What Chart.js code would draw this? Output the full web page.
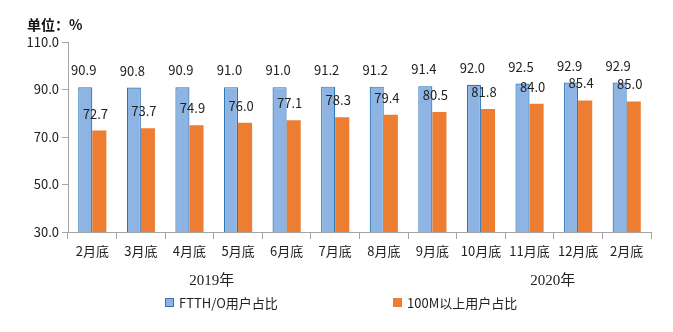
<!DOCTYPE html>
<html>
<head>
<meta charset="utf-8">
<script src="https://cdn.jsdelivr.net/npm/chart.js@4/dist/chart.umd.min.js"></script>
<style>
  html, body { margin: 0; padding: 0; background: #fff; }
  #wrap { position: relative; width: 673px; height: 332px; }
</style>
</head>
<body>
<div id="wrap"><canvas id="broadbandChart" width="673" height="332"></canvas></div>
<script>
/* global Chart */
var months = ['2月底', '3月底', '4月底', '5月底', '6月底', '7月底', '8月底', '9月底', '10月底', '11月底', '12月底', '2月底'];
var ftthShare = [90.9, 90.8, 90.9, 91.0, 91.0, 91.2, 91.2, 91.4, 92.0, 92.5, 92.9, 92.9];
var over100mShare = [72.7, 73.7, 74.9, 76.0, 77.1, 78.3, 79.4, 80.5, 81.8, 84.0, 85.4, 85.0];
var seriesNames = ['FTTH/O用户占比', '100M以上用户占比'];
var yearLabels = ['2019年', '2020年'];
var unitText = '单位：%';

var cjk = '"Noto Sans CJK SC", "Noto Sans", sans-serif';

// value labels above each bar, plus unit, years and legend
var extrasPlugin = {
    id: 'extras',
    afterDatasetsDraw: function(chart){
        var ctx = chart.ctx;
        ctx.save();
        ctx.font = '13px ' + cjk;
        ctx.fillStyle = '#222';
        ctx.textAlign = 'center';
        ctx.textBaseline = 'middle';
        chart.data.datasets.forEach(function(ds, i){
            var meta = chart.getDatasetMeta(i);
            meta.data.forEach(function(bar, j){
                var shift = i === 0 ? -1.5 : -4;
                ctx.fillText(ds.data[j].toFixed(1), bar.x + shift, bar.y - 17);
            });
        });
        ctx.restore();
    },
    afterDraw: function(chart){
        var ctx = chart.ctx;
        ctx.save();
        // unit
        ctx.font = 'bold 14px ' + cjk;
        ctx.fillStyle = '#111';
        ctx.textAlign = 'left';
        ctx.textBaseline = 'middle';
        ctx.fillText(unitText, 27, 25);

        // year labels
        ctx.font = '15px "Liberation Serif", "Noto Sans CJK SC", serif';
        ctx.fillStyle = '#222';
        ctx.textAlign = 'center';
        var xs = chart.scales.x;
        var c2019 = (xs.getPixelForValue(2) + xs.getPixelForValue(3)) / 2 - 2;
        var c2020 = (xs.getPixelForValue(9) + xs.getPixelForValue(10)) / 2 - 1;
        ctx.fillText(yearLabels[0], c2019, 281);
        ctx.fillText(yearLabels[1], c2020, 281);

        // legend
        var items = [
            {x: 165, fill: '#8EB4E3', border: '#2E75B6', text: seriesNames[0]},
            {x: 393, fill: '#ED7D31', border: '#ED7D31', text: seriesNames[1]}
        ];
        ctx.font = '13px ' + cjk;
        ctx.textAlign = 'left';
        items.forEach(function(it){
            ctx.fillStyle = it.fill;
            ctx.fillRect(it.x, 298, 9, 9);
            ctx.strokeStyle = it.border;
            ctx.lineWidth = 1;
            ctx.strokeRect(it.x + 0.5, 298.5, 8, 8);
            ctx.fillStyle = '#222';
            ctx.fillText(it.text, it.x + 14, 303);
        });
        ctx.restore();
    }
};

function renderBars(){
    var ctx = document.getElementById('broadbandChart').getContext('2d');
    var config = {
        type: 'bar',
        data: {
            labels: months,
            datasets: [{
                label: seriesNames[0],
                data: ftthShare,
                backgroundColor: '#8EB4E3',
                borderColor: '#2E75B6',
                borderWidth: 1.2,
                categoryPercentage: 0.58,
                barPercentage: 1.0
            }, {
                label: seriesNames[1],
                data: over100mShare,
                backgroundColor: '#ED7D31',
                borderWidth: 0,
                categoryPercentage: 0.58,
                barPercentage: 1.0
            }]
        },
        options: {
            responsive: false,
            animation: false,
            layout: { padding: { left: 0, right: 22, top: 42, bottom: 0 } },
            plugins: {
                legend: { display: false },
                tooltip: { enabled: false }
            },
            scales: {
                x: {
                    grid: { drawOnChartArea: false, offset: true, tickLength: 7, color: '#A6A6A6' },
                    border: { color: '#A6A6A6' },
                    ticks: { color: '#222', font: { size: 13, family: cjk }, padding: 4, maxRotation: 0, autoSkip: false },
                    afterFit: function(scale){ scale.height = 100; }
                },
                y: {
                    min: 30,
                    max: 110,
                    grid: { drawOnChartArea: false, tickLength: 6, color: '#A6A6A6' },
                    border: { color: '#A6A6A6' },
                    ticks: {
                        stepSize: 20,
                        color: '#222',
                        font: { size: 13, family: cjk },
                        padding: 3,
                        callback: function(v){ return v.toFixed(1); }
                    },
                    afterFit: function(scale){ scale.width = 68; }
                }
            }
        },
        plugins: [extrasPlugin]
    };
    return new Chart(ctx, config);
}

renderBars();
</script>
</body>
</html>
